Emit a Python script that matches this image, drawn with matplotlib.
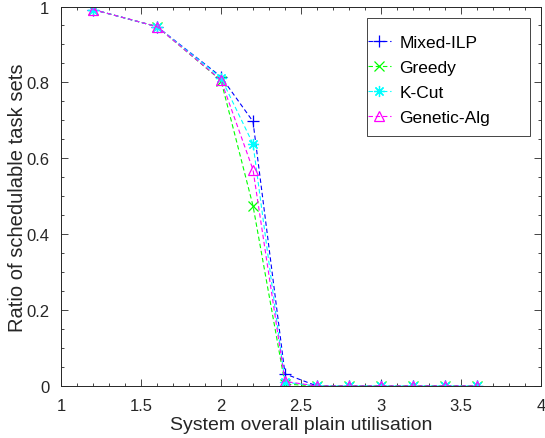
import matplotlib
matplotlib.use("Agg")
import matplotlib.pyplot as plt
from matplotlib.patches import Rectangle
from matplotlib.ticker import MultipleLocator

plt.rcParams['font.family'] = ['Liberation Sans', 'DejaVu Sans']

# utilisation levels
util = [1.2, 1.6, 2.0, 2.2, 2.4, 2.6, 2.8, 3.0, 3.2, 3.4, 3.6]

mixed_ilp = [0.992, 0.947, 0.815, 0.697, 0.032, 0.0, 0.0, 0.0, 0.0, 0.0, 0.0]
greedy = [0.992, 0.947, 0.805, 0.475, 0.005, 0.0, 0.0, 0.0, 0.0, 0.0, 0.0]
k_cut = [0.992, 0.947, 0.812, 0.638, 0.010, 0.0, 0.0, 0.0, 0.0, 0.0, 0.0]
genetic = [0.992, 0.947, 0.806, 0.570, 0.012, 0.0, 0.0, 0.0, 0.0, 0.0, 0.0]

series = [
    ("Mixed-ILP", mixed_ilp, "#0000ff", "+", 9),
    ("Greedy", greedy, "#00ff00", "x", 7),
    ("K-Cut", k_cut, "#00ffff", (8, 2, 0), 8),
    ("Genetic-Alg", genetic, "#ff00ff", "^", 7),
]

fig = plt.figure(figsize=(5.45, 4.39), dpi=100)
ax = fig.add_axes([61 / 545, 52 / 439, 480 / 545, 379.5 / 439])

for name, vals, col, mk, ms in series:
    ax.plot(util, vals, linestyle="--", color=col, marker=mk, markersize=ms,
            markerfacecolor="none", markeredgewidth=0.9, linewidth=0.8,
            dashes=(4, 2.5), label=name)

ax.set_xlim(1, 4)
ax.set_ylim(0, 1)
ax.xaxis.set_minor_locator(MultipleLocator(0.1))
ax.yaxis.set_minor_locator(MultipleLocator(0.05))
ax.set_xticks([1, 1.5, 2, 2.5, 3, 3.5, 4])
ax.set_xticklabels(["1", "1.5", "2", "2.5", "3", "3.5", "4"])
ax.set_yticks([0, 0.2, 0.4, 0.6, 0.8, 1])
ax.set_yticklabels(["0", "0.2", "0.4", "0.6", "0.8", "1"])
ax.tick_params(which="both", direction="in", top=True, right=True,
               labelsize=12, color="#262626", labelcolor="#262626", width=0.6)
ax.tick_params(which="major", length=5)
ax.tick_params(which="minor", length=2.5)
ax.tick_params(axis="x", which="major", pad=9)
ax.tick_params(axis="y", which="major", pad=8.5)
for sp in ax.spines.values():
    sp.set_linewidth(0.7)
    sp.set_color("#262626")

ax.set_xlabel("System overall plain utilisation", fontsize=14, color="#262626", labelpad=2)
ax.set_ylabel("Ratio of schedulable task sets", fontsize=14.5, color="#262626", labelpad=-1)

# legend box drawn separately so its padding matches the reference
ax.add_patch(Rectangle((367 / 545, (439 - 137) / 439), 163 / 545, 118 / 439,
                       transform=fig.transFigure, facecolor="white", clip_on=False,
                       edgecolor="#262626", linewidth=0.6, zorder=4))
leg = ax.legend(loc="upper left", bbox_to_anchor=(368 / 545, (439 - 36) / 439),
                bbox_transform=fig.transFigure, fontsize=12.5, frameon=False,
                handlelength=1.3, labelspacing=0.56, borderpad=0.0,
                borderaxespad=0.0, handletextpad=0.5)
leg.set_zorder(5)

fig.savefig("out.png", dpi=100)
